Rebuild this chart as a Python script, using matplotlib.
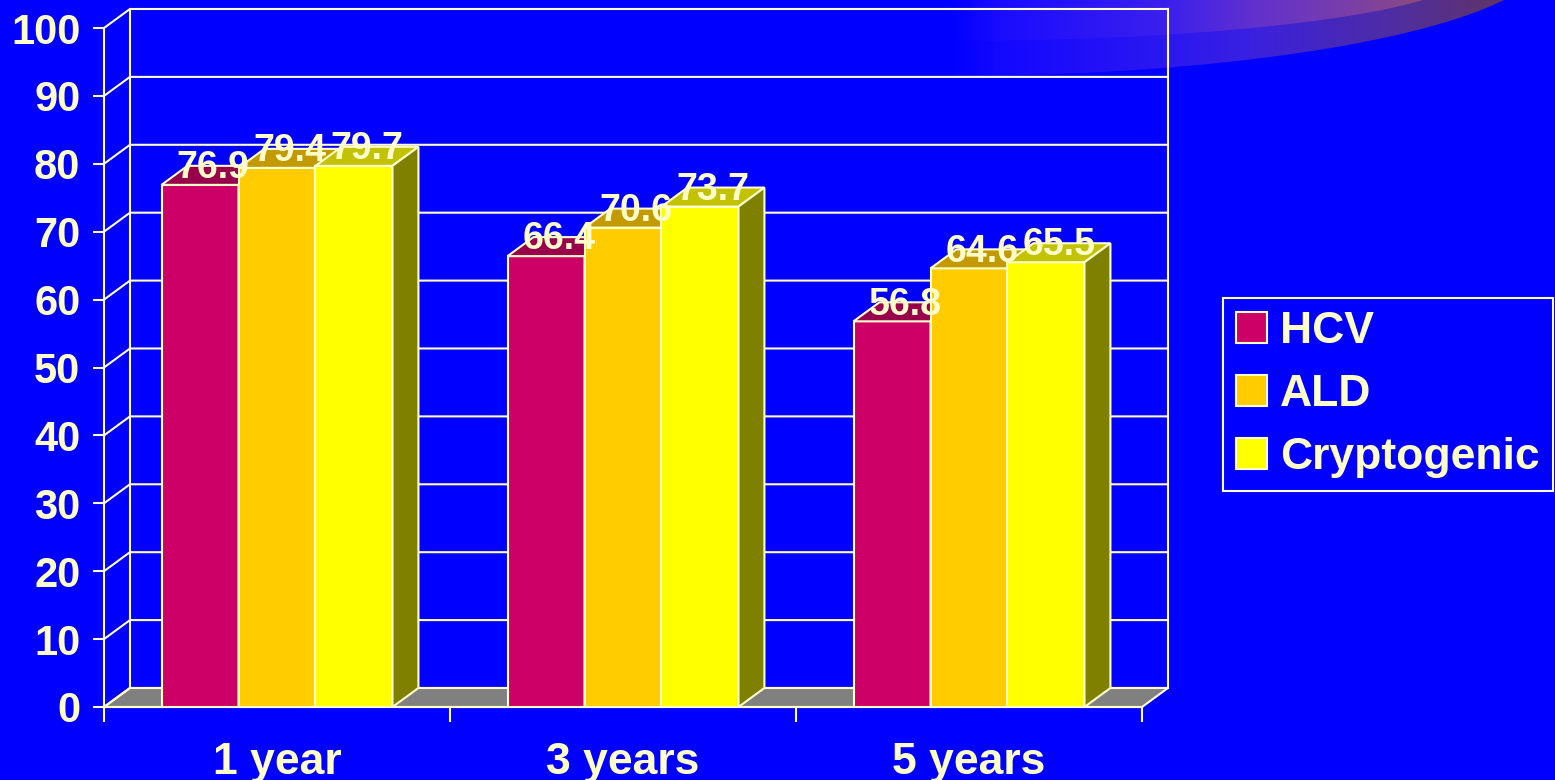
import numpy as np
import matplotlib.pyplot as plt
from matplotlib.patches import Polygon, Patch

plt.rcParams['font.family'] = ['Liberation Sans', 'DejaVu Sans']
plt.rcParams['font.weight'] = 'bold'

# survival by period, percent
periods = ["1 year", "3 years", "5 years"]
series = ["HCV", "ALD", "Cryptogenic"]
hcv = [76.9, 66.4, 56.8]
ald = [79.4, 70.6, 64.6]
cryptogenic = [79.7, 73.7, 65.5]
yticks = list(range(0, 101, 10))

front_colors = ["#CC0066", "#FFCC00", "#FFFF00"]
top_colors = ["#99004C", "#C29A00", "#C2C200"]
side_colors = ["#66003A", "#806600", "#808000"]
bg = "#0000FF"
ink = "#FFFFCC"

fig = plt.figure(figsize=(15.55, 7.8), dpi=100, facecolor=bg)

# decorative swoosh in the top right corner
deco = fig.add_axes([0, 0, 1, 1], zorder=0)
deco.set_xlim(0, 1555)
deco.set_ylim(780, 0)
deco.axis("off")


def arc(cx, cy, a, b, x_end):
    xs = np.linspace(cx, x_end, 120)
    ys = cy + b * np.sqrt(np.clip(1 - ((xs - cx) / a) ** 2, 0, 1))
    return xs, ys


def band(xs, ys, stops, cols):
    pts = list(zip(xs, ys)) + [(xs[-1], -20), (xs[0] - 60, -20), (xs[0] - 60, ys[0])]
    poly = Polygon(pts, closed=True, transform=deco.transData, fc="none", ec="none")
    deco.add_patch(poly)
    gx = np.arange(880, 1556)
    cols = np.array(cols) / 255.0
    row = np.stack([np.interp(gx, stops, cols[:, k]) for k in range(3)], axis=1)
    img = np.repeat(row[None, :, :], 2, axis=0)
    im = deco.imshow(img, extent=(880, 1556, 110, -20), aspect="auto",
                     interpolation="bilinear")
    im.set_clip_path(poly)


xo, yo = arc(950, -47.4, 600, 123.4, 1504)
band(xo, yo, [950, 1000, 1170, 1250, 1400, 1504],
     [(0, 0, 255), (20, 8, 255), (44, 24, 240), (58, 32, 224), (80, 46, 160), (96, 52, 100)])
xi, yi = arc(950, -29.1, 520, 70.1, 1423)
band(xi, yi, [950, 1000, 1170, 1250, 1350, 1423],
     [(0, 0, 255), (26, 12, 255), (60, 32, 236), (96, 48, 208), (122, 63, 168), (140, 76, 124)])

ax = fig.add_axes([104 / 1555, 73 / 780, 1038 / 1555, 679 / 780], zorder=1)
ax.set_facecolor("none")
ax.set_xlim(0, 3)
ax.set_ylim(0, 100)

dx, dy = 0.075, 2.8
w = 0.2225
lw = 1.5

# floor, back wall and side wall grid
ax.add_patch(Polygon([(0, 0), (3, 0), (3 + dx, dy), (dx, dy)], closed=True,
                     fc="#808080", ec=ink, lw=lw, clip_on=False, zorder=1))
for v in yticks:
    ax.plot([0, dx, 3 + dx], [v, v + dy, v + dy], color=ink, lw=lw,
            clip_on=False, zorder=1.5)
ax.plot([dx, dx], [dy, 100 + dy], color=ink, lw=lw, clip_on=False, zorder=1.5)
ax.plot([3 + dx, 3 + dx], [dy, 100 + dy], color=ink, lw=lw, clip_on=False, zorder=1.5)

# bars with top and side faces
x = np.arange(len(periods))
for j, vals in enumerate([hcv, ald, cryptogenic]):
    x0 = x + 0.5 - 1.5 * w + j * w
    z = 3 + j
    ax.bar(x0, vals, width=w, align="edge", color=front_colors[j],
           edgecolor=ink, lw=lw, zorder=z)
    for xl, h in zip(x0, vals):
        ax.fill([xl, xl + w, xl + w + dx, xl + dx], [h, h, h + dy, h + dy],
                fc=top_colors[j], ec=ink, lw=lw, clip_on=False, zorder=z)
        ax.fill([xl + w, xl + w + dx, xl + w + dx, xl + w], [0, dy, h + dy, h],
                fc=side_colors[j], ec=ink, lw=lw, clip_on=False, zorder=z)
        ax.text(xl + w / 2 + dx / 2, h + 1.0, f"{h}", ha="center", va="baseline",
                fontsize=27, fontweight="bold", color=ink, zorder=10)

for s in ["top", "right"]:
    ax.spines[s].set_visible(False)
for s in ["left", "bottom"]:
    ax.spines[s].set_color(ink)
    ax.spines[s].set_linewidth(lw)
    ax.spines[s].set_zorder(2)

ax.set_yticks(yticks)
ax.set_yticklabels([str(t) for t in yticks])
ax.tick_params(axis="y", length=8, width=lw, color=ink, labelcolor=ink,
               labelsize=30, pad=9)
ax.set_xticks([0, 1, 2, 3])
ax.set_xticklabels([])
ax.set_xticks(x + 0.5, minor=True)
ax.set_xticklabels(periods, minor=True)
ax.tick_params(axis="x", which="major", length=11, width=lw, color=ink)
ax.tick_params(axis="x", which="minor", length=0, labelcolor=ink,
               labelsize=32, pad=25)
for lab in ax.get_yticklabels() + ax.get_xticklabels(minor=True):
    lab.set_fontweight("bold")

handles = [Patch(fc=c, ec=ink, lw=lw) for c in front_colors]
leg = fig.legend(handles, series, loc="upper left",
                 bbox_to_anchor=(1223 / 1555, 1 - 298 / 780),
                 prop={"size": 32, "weight": "bold"}, labelcolor=ink,
                 frameon=True, facecolor=bg, edgecolor=ink, framealpha=1,
                 fancybox=False, handlelength=0.68, handleheight=0.68,
                 handletextpad=0.3, labelspacing=0.49, borderpad=0.3,
                 borderaxespad=0)
leg.get_frame().set_linewidth(lw)

fig.savefig("out.png", dpi=100, facecolor=bg)
